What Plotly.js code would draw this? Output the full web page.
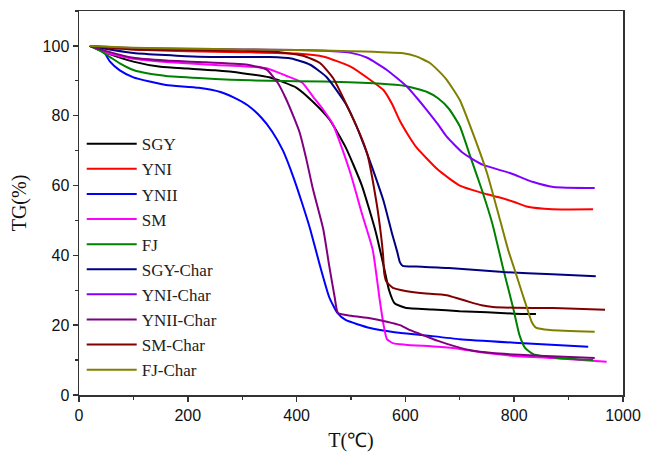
<!DOCTYPE html>
<html>
<head>
<meta charset="utf-8">
<script src="https://cdn.plot.ly/plotly-3.0.1.min.js"></script>
<style>html,body{margin:0;padding:0;background:#fff;}#chart{width:645px;height:456px;}</style>
</head>
<body>
<div id="chart"></div>
<script>
// Series names and colours
const seriesNames = ["SGY","YNI","YNII","SM","FJ","SGY-Char","YNI-Char","YNII-Char","SM-Char","FJ-Char"];
const seriesColors = ["#000000","#ff0000","#0000ff","#ff00ff","#008000","#000080","#8000ff","#800080","#800000","#808000"];

// Temperature (°C) and TG (%) values
const sgyT  = [20,50,100,150,200,250,300,350,400,430,460,490,520,545,560,570,580,600,650,700,750,800,840];
const sgyTG = [100,98,95.5,94,93.5,93,92.2,91,88,84,79,71,60,47,37,30,26.3,25,24.5,24,23.7,23.3,23.2];

const yniT  = [20,100,200,300,400,450,500,535,560,575,590,605,620,660,700,750,770,800,825,870,945];
const yniTG = [100,99,98.5,98.2,97.8,96.9,94,90.3,87.3,83.5,78.5,74.5,71,64.5,60,57.5,56.7,55.3,53.9,53.2,53.2];

const yniiT  = [20,35,45,57,75,100,130,160,220,260,285,310,335,355,375,395,410,425,443,460,475,490,535,580,630,700,800,936];
const yniiTG = [100,99.5,98.5,95.5,93,91,89.8,88.8,88,86.8,85.2,83,79.5,75.5,70,62,55,47.5,37,28,23.5,21.5,19.2,18,17.2,16,15,13.8];

const smT  = [20,50,100,160,250,300,345,380,410,430,450,467,485,500,520,540,553,560,566,578,600,660,700,750,800,870,970];
const smTG = [100,98,96.3,95.4,94.5,94.2,93.6,91.5,89.5,85.5,81.5,77.5,70,63,52,41.5,27,20,16,14.8,14.4,13.8,13.2,12,11.2,10.6,9.5];

const fjT  = [20,40,57,75,100,130,160,220,280,350,450,550,600,640,660,680,700,720,740,760,780,798,810,820,835,880,945];
const fjTG = [100,98.5,96.8,95,93.1,92,91.4,90.8,90.3,90,89.8,89.2,88.5,86.8,85,82,77,68,59,49,36,25,17,13.5,11.7,10.6,10];

const sgyCharT  = [20,40,100,220,350,390,425,455,490,510,530,545,560,575,585,590,595,620,680,780,870,950];
const sgyCharTG = [100,99.4,98,96.9,96.8,96.4,94.6,91.1,83.5,77,69,62.5,55.5,46.5,41,38,37,36.8,36.4,35.2,34.6,34];

const yniCharT  = [20,100,200,300,400,450,500,530,566,603,620,639,660,676,706,743,792,835,872,948];
const yniCharTG = [100,99.4,99.2,99,98.8,98.6,98,96.6,93.1,88.3,85.3,81.7,77.5,74,69.3,65.9,63.6,61,59.6,59.3];

const yniiCharT  = [20,50,100,160,220,310,345,365,380,395,406,418,430,449,460,470,476,500,535,566,590,610,635,660,690,720,760,810,880,948];
const yniiCharTG = [100,98.5,96.6,95.8,95.4,94.6,93.2,89.5,85,79.5,75,67.5,59,47.5,37,28,23.5,22.7,22,21,20,18.5,17,15.5,14,12.8,12,11.5,11,10.6];

const smCharT  = [20,100,200,300,350,380,412,443,467,492,517,530,547,555,559,561,565,577,600,627,676,700,719,740,761,800,872,967];
const smCharTG = [100,99,98.8,98.6,98.4,98,97.2,95.1,90.8,83.1,74.5,69,55,46,40,35,32.5,30.7,29.8,29.2,28.6,27.5,26.6,25.7,25.2,25,24.9,24.4];

const fjCharT  = [20,100,200,300,400,500,596,620,645,660,676,700,724,750,774,789,801,815,823,832,840,866,948];
const fjCharTG = [100,99.5,99.2,99,98.8,98.5,97.9,97,95.1,93,90.3,84.5,75,63.6,50.1,41.5,35.8,29,25.2,21,19.3,18.6,18.1];

const xs = [sgyT,yniT,yniiT,smT,fjT,sgyCharT,yniCharT,yniiCharT,smCharT,fjCharT];
const ys = [sgyTG,yniTG,yniiTG,smTG,fjTG,sgyCharTG,yniCharTG,yniiCharTG,smCharTG,fjCharTG];

const xTicks = [0,200,400,600,800,1000];
const yTicks = [0,20,40,60,80,100];

const traces = seriesNames.map((n,i)=>({
  type:'scatter', mode:'lines', name:n, x:xs[i], y:ys[i],
  line:{color:seriesColors[i], width:2, shape:'spline', smoothing:0.5}
}));

const layout = {
  width:645, height:456,
  margin:{l:79, r:22, t:11, b:61},
  paper_bgcolor:'#fff', plot_bgcolor:'#fff',
  showlegend:true,
  legend:{x:0.005, y:0.70, xanchor:'left', yanchor:'top', bgcolor:'rgba(0,0,0,0)',
          font:{family:'Liberation Serif, Times New Roman, serif', size:17, color:'#222'},
          itemwidth:50, traceorder:'normal'},
  xaxis:{range:[0,1000], tickvals:xTicks, ticktext:xTicks.map(String),
         ticks:'outside', ticklen:5, tickwidth:1.5, tickcolor:'#333',
         minor:{dtick:100, ticks:'outside', ticklen:3, tickwidth:1.2, tickcolor:'#333'},
         showline:true, linecolor:'#333', linewidth:1.5, mirror:true,
         showgrid:false, zeroline:false,
         tickfont:{family:'Liberation Sans, Arial, sans-serif', size:16, color:'#111'},
         title:{text:'T(℃)', font:{family:'Liberation Serif, Times New Roman, serif', size:20, color:'#111'}, standoff:10}},
  yaxis:{range:[0,110], tickvals:yTicks, ticktext:yTicks.map(String),
         ticks:'outside', ticklen:5, tickwidth:1.5, tickcolor:'#333',
         minor:{dtick:10, ticks:'outside', ticklen:3, tickwidth:1.2, tickcolor:'#333'},
         showline:true, linecolor:'#333', linewidth:1.5, mirror:true,
         showgrid:false, zeroline:false,
         tickfont:{family:'Liberation Sans, Arial, sans-serif', size:16, color:'#111'},
         title:{text:'TG(%)', font:{family:'Liberation Serif, Times New Roman, serif', size:20, color:'#111'}, standoff:10}}
};

Plotly.newPlot('chart', traces, layout, {displayModeBar:false, staticPlot:true});
</script>
</body>
</html>
